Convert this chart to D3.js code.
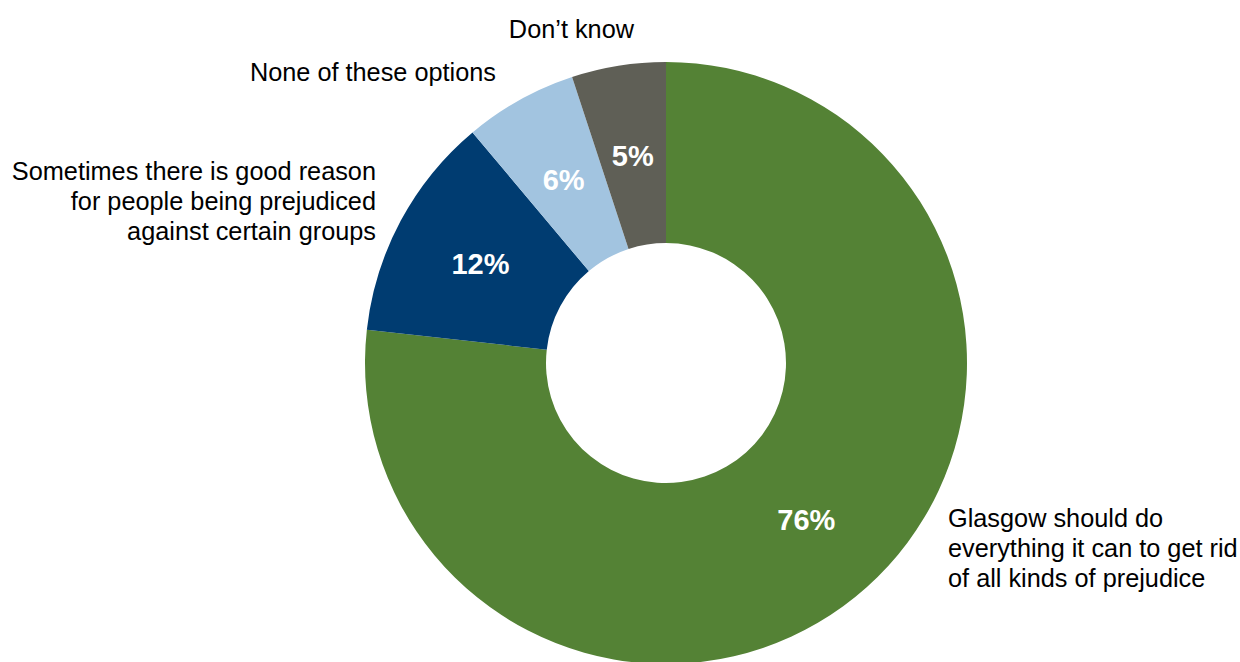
<!DOCTYPE html>
<html>
<head>
<meta charset="utf-8">
<script src="https://cdn.jsdelivr.net/npm/d3@7"></script>
<style>
  html, body { margin: 0; padding: 0; background: #fff; }
  svg { display: block; }
</style>
</head>
<body>
<svg id="chart" width="1240" height="662"></svg>
<script>
// Survey responses, in clockwise order from 12 o'clock
const categories = [
  "Glasgow should do everything it can to get rid of all kinds of prejudice",
  "Sometimes there is good reason for people being prejudiced against certain groups",
  "None of these options",
  "Don\u2019t know"
];
const values = [76, 12, 6, 5];
const colors = ["#548235", "#003C71", "#A2C4E0", "#5F5F56"];

// Category label lines (wrapped)
const labelLines = [
  ["Glasgow should do", "everything it can to get rid", "of all kinds of prejudice"],
  ["Sometimes there is good reason", "for people being prejudiced", "against certain groups"],
  ["None of these options"],
  ["Don\u2019t know"]
];

// Label placement: anchor point and text alignment
const labelLayout = [
  { x: 948, y: 527, anchor: "start" },
  { x: 376, y: 180, anchor: "end" },
  { x: 496, y: 81,  anchor: "end" },
  { x: 634, y: 38,  anchor: "end" }
];

const svg = d3.select("#chart");
const cx = 666, cy = 363;
const outerR = 301, innerR = 120;

const data = categories.map((c, i) => ({ category: c, value: values[i], color: colors[i], lines: labelLines[i] }));

const pie = d3.pie().value(d => d.value).sort(null);
const arc = d3.arc().innerRadius(innerR).outerRadius(outerR);

const g = svg.append("g").attr("transform", `translate(${cx},${cy})`);
const arcs = pie(data);

g.selectAll("path.slice")
  .data(arcs)
  .join("path")
  .attr("class", "slice")
  .attr("d", arc)
  .attr("fill", d => d.data.color);

g.selectAll("text.pct")
  .data(arcs)
  .join("text")
  .attr("class", "pct")
  .attr("transform", d => `translate(${arc.centroid(d)})`)
  .attr("text-anchor", "middle")
  .attr("dy", "0.36em")
  .attr("font-family", "Liberation Sans, Arial, sans-serif")
  .attr("font-weight", "bold")
  .attr("font-size", 29)
  .attr("fill", "#fff")
  .text(d => d.data.value + "%");

// Category labels outside the ring
const lbl = svg.selectAll("text.cat")
  .data(data)
  .join("text")
  .attr("class", "cat")
  .attr("x", (d, i) => labelLayout[i].x)
  .attr("y", (d, i) => labelLayout[i].y)
  .attr("text-anchor", (d, i) => labelLayout[i].anchor)
  .attr("font-family", "Liberation Sans, Arial, sans-serif")
  .attr("font-size", 25.3)
  .attr("fill", "#000");

lbl.each(function(d, i) {
  const t = d3.select(this);
  d.lines.forEach((line, j) => {
    t.append("tspan")
      .attr("x", labelLayout[i].x)
      .attr("dy", j === 0 ? 0 : 30)
      .text(line);
  });
});
</script>
</body>
</html>
